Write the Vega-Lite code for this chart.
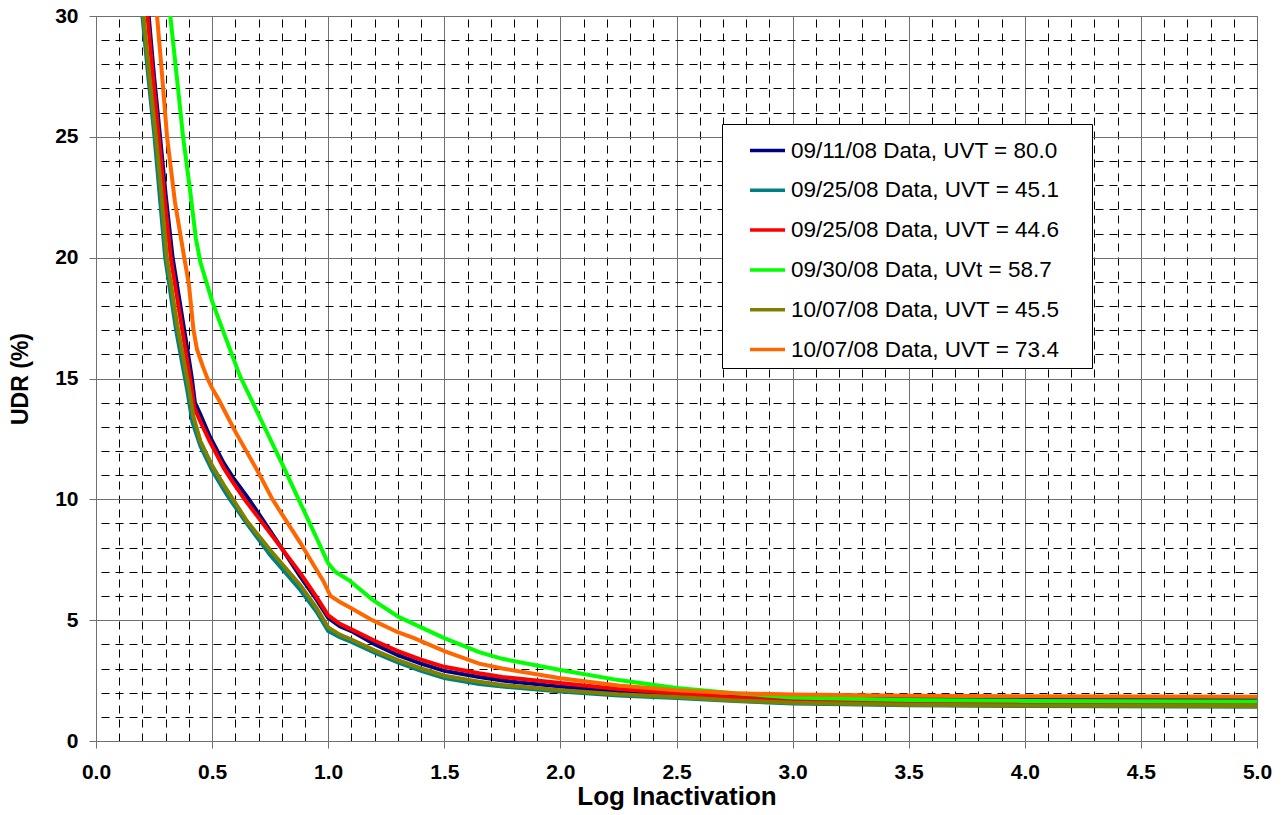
{
  "$schema": "https://vega.github.io/schema/vega-lite/v6.json",
  "width": 1161,
  "height": 725,
  "autosize": {"type": "none"},
  "padding": {"left": 96, "top": 16, "right": 29, "bottom": 74},
  "background": "white",
  "config": {
    "view": {"stroke": "#808080", "strokeWidth": 1},
    "font": "Liberation Sans"
  },
  "data": {"values": [
    {"s": "09/11/08 Data, UVT = 80.0", "x": 0.21, "y": 31.8},
    {"s": "09/11/08 Data, UVT = 80.0", "x": 0.227, "y": 30},
    {"s": "09/11/08 Data, UVT = 80.0", "x": 0.25, "y": 27.5},
    {"s": "09/11/08 Data, UVT = 80.0", "x": 0.276, "y": 25},
    {"s": "09/11/08 Data, UVT = 80.0", "x": 0.30, "y": 22.6},
    {"s": "09/11/08 Data, UVT = 80.0", "x": 0.33, "y": 20},
    {"s": "09/11/08 Data, UVT = 80.0", "x": 0.36, "y": 18.2},
    {"s": "09/11/08 Data, UVT = 80.0", "x": 0.40, "y": 15.8},
    {"s": "09/11/08 Data, UVT = 80.0", "x": 0.413, "y": 15},
    {"s": "09/11/08 Data, UVT = 80.0", "x": 0.426, "y": 14.0},
    {"s": "09/11/08 Data, UVT = 80.0", "x": 0.45, "y": 13.5},
    {"s": "09/11/08 Data, UVT = 80.0", "x": 0.49, "y": 12.6},
    {"s": "09/11/08 Data, UVT = 80.0", "x": 0.55, "y": 11.5},
    {"s": "09/11/08 Data, UVT = 80.0", "x": 0.59, "y": 10.9},
    {"s": "09/11/08 Data, UVT = 80.0", "x": 0.655, "y": 10.05},
    {"s": "09/11/08 Data, UVT = 80.0", "x": 0.75, "y": 8.7},
    {"s": "09/11/08 Data, UVT = 80.0", "x": 0.88, "y": 6.8},
    {"s": "09/11/08 Data, UVT = 80.0", "x": 0.95, "y": 5.85},
    {"s": "09/11/08 Data, UVT = 80.0", "x": 1.00, "y": 5.1},
    {"s": "09/11/08 Data, UVT = 80.0", "x": 1.05, "y": 4.75},
    {"s": "09/11/08 Data, UVT = 80.0", "x": 1.10, "y": 4.55},
    {"s": "09/11/08 Data, UVT = 80.0", "x": 1.20, "y": 4.0},
    {"s": "09/11/08 Data, UVT = 80.0", "x": 1.30, "y": 3.55},
    {"s": "09/11/08 Data, UVT = 80.0", "x": 1.40, "y": 3.2},
    {"s": "09/11/08 Data, UVT = 80.0", "x": 1.50, "y": 2.9},
    {"s": "09/11/08 Data, UVT = 80.0", "x": 1.65, "y": 2.65},
    {"s": "09/11/08 Data, UVT = 80.0", "x": 1.75, "y": 2.5},
    {"s": "09/11/08 Data, UVT = 80.0", "x": 2.0, "y": 2.25},
    {"s": "09/11/08 Data, UVT = 80.0", "x": 2.25, "y": 2.05},
    {"s": "09/11/08 Data, UVT = 80.0", "x": 2.5, "y": 1.9},
    {"s": "09/11/08 Data, UVT = 80.0", "x": 2.75, "y": 1.82},
    {"s": "09/11/08 Data, UVT = 80.0", "x": 3.0, "y": 1.77},
    {"s": "09/11/08 Data, UVT = 80.0", "x": 3.5, "y": 1.74},
    {"s": "09/11/08 Data, UVT = 80.0", "x": 4.0, "y": 1.73},
    {"s": "09/11/08 Data, UVT = 80.0", "x": 5.0, "y": 1.72},

    {"s": "09/25/08 Data, UVT = 45.1", "x": 0.185, "y": 31.8},
    {"s": "09/25/08 Data, UVT = 45.1", "x": 0.2, "y": 30},
    {"s": "09/25/08 Data, UVT = 45.1", "x": 0.225, "y": 27.5},
    {"s": "09/25/08 Data, UVT = 45.1", "x": 0.252, "y": 25},
    {"s": "09/25/08 Data, UVT = 45.1", "x": 0.275, "y": 22.5},
    {"s": "09/25/08 Data, UVT = 45.1", "x": 0.298, "y": 20},
    {"s": "09/25/08 Data, UVT = 45.1", "x": 0.345, "y": 17.0},
    {"s": "09/25/08 Data, UVT = 45.1", "x": 0.395, "y": 14.4},
    {"s": "09/25/08 Data, UVT = 45.1", "x": 0.415, "y": 13.2},
    {"s": "09/25/08 Data, UVT = 45.1", "x": 0.45, "y": 12.2},
    {"s": "09/25/08 Data, UVT = 45.1", "x": 0.50, "y": 11.2},
    {"s": "09/25/08 Data, UVT = 45.1", "x": 0.55, "y": 10.4},
    {"s": "09/25/08 Data, UVT = 45.1", "x": 0.577, "y": 10.0},
    {"s": "09/25/08 Data, UVT = 45.1", "x": 0.65, "y": 9.0},
    {"s": "09/25/08 Data, UVT = 45.1", "x": 0.75, "y": 7.7},
    {"s": "09/25/08 Data, UVT = 45.1", "x": 0.88, "y": 6.25},
    {"s": "09/25/08 Data, UVT = 45.1", "x": 0.95, "y": 5.35},
    {"s": "09/25/08 Data, UVT = 45.1", "x": 1.00, "y": 4.55},
    {"s": "09/25/08 Data, UVT = 45.1", "x": 1.05, "y": 4.3},
    {"s": "09/25/08 Data, UVT = 45.1", "x": 1.10, "y": 4.1},
    {"s": "09/25/08 Data, UVT = 45.1", "x": 1.20, "y": 3.65},
    {"s": "09/25/08 Data, UVT = 45.1", "x": 1.30, "y": 3.25},
    {"s": "09/25/08 Data, UVT = 45.1", "x": 1.40, "y": 2.9},
    {"s": "09/25/08 Data, UVT = 45.1", "x": 1.50, "y": 2.6},
    {"s": "09/25/08 Data, UVT = 45.1", "x": 1.65, "y": 2.36},
    {"s": "09/25/08 Data, UVT = 45.1", "x": 1.75, "y": 2.25},
    {"s": "09/25/08 Data, UVT = 45.1", "x": 2.0, "y": 2.05},
    {"s": "09/25/08 Data, UVT = 45.1", "x": 2.25, "y": 1.88},
    {"s": "09/25/08 Data, UVT = 45.1", "x": 2.5, "y": 1.78},
    {"s": "09/25/08 Data, UVT = 45.1", "x": 2.75, "y": 1.65},
    {"s": "09/25/08 Data, UVT = 45.1", "x": 3.0, "y": 1.55},
    {"s": "09/25/08 Data, UVT = 45.1", "x": 3.5, "y": 1.48},
    {"s": "09/25/08 Data, UVT = 45.1", "x": 4.0, "y": 1.45},
    {"s": "09/25/08 Data, UVT = 45.1", "x": 5.0, "y": 1.42},

    {"s": "09/25/08 Data, UVT = 44.6", "x": 0.205, "y": 31.6},
    {"s": "09/25/08 Data, UVT = 44.6", "x": 0.222, "y": 30},
    {"s": "09/25/08 Data, UVT = 44.6", "x": 0.245, "y": 27.5},
    {"s": "09/25/08 Data, UVT = 44.6", "x": 0.27, "y": 25},
    {"s": "09/25/08 Data, UVT = 44.6", "x": 0.295, "y": 22.5},
    {"s": "09/25/08 Data, UVT = 44.6", "x": 0.322, "y": 20},
    {"s": "09/25/08 Data, UVT = 44.6", "x": 0.355, "y": 18.0},
    {"s": "09/25/08 Data, UVT = 44.6", "x": 0.395, "y": 15.6},
    {"s": "09/25/08 Data, UVT = 44.6", "x": 0.41, "y": 14.7},
    {"s": "09/25/08 Data, UVT = 44.6", "x": 0.423, "y": 13.8},
    {"s": "09/25/08 Data, UVT = 44.6", "x": 0.45, "y": 13.2},
    {"s": "09/25/08 Data, UVT = 44.6", "x": 0.49, "y": 12.4},
    {"s": "09/25/08 Data, UVT = 44.6", "x": 0.55, "y": 11.3},
    {"s": "09/25/08 Data, UVT = 44.6", "x": 0.59, "y": 10.7},
    {"s": "09/25/08 Data, UVT = 44.6", "x": 0.64, "y": 10.0},
    {"s": "09/25/08 Data, UVT = 44.6", "x": 0.75, "y": 8.6},
    {"s": "09/25/08 Data, UVT = 44.6", "x": 0.88, "y": 6.95},
    {"s": "09/25/08 Data, UVT = 44.6", "x": 0.95, "y": 5.95},
    {"s": "09/25/08 Data, UVT = 44.6", "x": 1.00, "y": 5.2},
    {"s": "09/25/08 Data, UVT = 44.6", "x": 1.05, "y": 4.85},
    {"s": "09/25/08 Data, UVT = 44.6", "x": 1.10, "y": 4.62},
    {"s": "09/25/08 Data, UVT = 44.6", "x": 1.20, "y": 4.15},
    {"s": "09/25/08 Data, UVT = 44.6", "x": 1.30, "y": 3.72},
    {"s": "09/25/08 Data, UVT = 44.6", "x": 1.40, "y": 3.37},
    {"s": "09/25/08 Data, UVT = 44.6", "x": 1.50, "y": 3.07},
    {"s": "09/25/08 Data, UVT = 44.6", "x": 1.65, "y": 2.8},
    {"s": "09/25/08 Data, UVT = 44.6", "x": 1.75, "y": 2.65},
    {"s": "09/25/08 Data, UVT = 44.6", "x": 2.0, "y": 2.4},
    {"s": "09/25/08 Data, UVT = 44.6", "x": 2.25, "y": 2.15},
    {"s": "09/25/08 Data, UVT = 44.6", "x": 2.5, "y": 1.98},
    {"s": "09/25/08 Data, UVT = 44.6", "x": 2.75, "y": 1.8},
    {"s": "09/25/08 Data, UVT = 44.6", "x": 3.0, "y": 1.7},
    {"s": "09/25/08 Data, UVT = 44.6", "x": 3.5, "y": 1.62},
    {"s": "09/25/08 Data, UVT = 44.6", "x": 4.0, "y": 1.58},
    {"s": "09/25/08 Data, UVT = 44.6", "x": 5.0, "y": 1.55},

    {"s": "09/30/08 Data, UVt = 58.7", "x": 0.30, "y": 32.2},
    {"s": "09/30/08 Data, UVt = 58.7", "x": 0.32, "y": 30},
    {"s": "09/30/08 Data, UVt = 58.7", "x": 0.35, "y": 27.3},
    {"s": "09/30/08 Data, UVt = 58.7", "x": 0.375, "y": 25},
    {"s": "09/30/08 Data, UVt = 58.7", "x": 0.405, "y": 22.8},
    {"s": "09/30/08 Data, UVt = 58.7", "x": 0.43, "y": 20.8},
    {"s": "09/30/08 Data, UVt = 58.7", "x": 0.45, "y": 19.8},
    {"s": "09/30/08 Data, UVt = 58.7", "x": 0.50, "y": 18.2},
    {"s": "09/30/08 Data, UVt = 58.7", "x": 0.55, "y": 16.9},
    {"s": "09/30/08 Data, UVt = 58.7", "x": 0.62, "y": 15.1},
    {"s": "09/30/08 Data, UVt = 58.7", "x": 0.70, "y": 13.5},
    {"s": "09/30/08 Data, UVt = 58.7", "x": 0.80, "y": 11.5},
    {"s": "09/30/08 Data, UVt = 58.7", "x": 0.87, "y": 10.05},
    {"s": "09/30/08 Data, UVt = 58.7", "x": 0.95, "y": 8.4},
    {"s": "09/30/08 Data, UVt = 58.7", "x": 1.00, "y": 7.35},
    {"s": "09/30/08 Data, UVt = 58.7", "x": 1.03, "y": 7.0},
    {"s": "09/30/08 Data, UVt = 58.7", "x": 1.09, "y": 6.65},
    {"s": "09/30/08 Data, UVt = 58.7", "x": 1.19, "y": 5.85},
    {"s": "09/30/08 Data, UVt = 58.7", "x": 1.30, "y": 5.15},
    {"s": "09/30/08 Data, UVt = 58.7", "x": 1.40, "y": 4.7},
    {"s": "09/30/08 Data, UVt = 58.7", "x": 1.50, "y": 4.26},
    {"s": "09/30/08 Data, UVt = 58.7", "x": 1.65, "y": 3.68},
    {"s": "09/30/08 Data, UVt = 58.7", "x": 1.75, "y": 3.4},
    {"s": "09/30/08 Data, UVt = 58.7", "x": 2.0, "y": 2.94},
    {"s": "09/30/08 Data, UVt = 58.7", "x": 2.25, "y": 2.52},
    {"s": "09/30/08 Data, UVt = 58.7", "x": 2.5, "y": 2.19},
    {"s": "09/30/08 Data, UVt = 58.7", "x": 2.75, "y": 1.98},
    {"s": "09/30/08 Data, UVt = 58.7", "x": 3.0, "y": 1.8},
    {"s": "09/30/08 Data, UVt = 58.7", "x": 3.5, "y": 1.7},
    {"s": "09/30/08 Data, UVt = 58.7", "x": 4.0, "y": 1.66},
    {"s": "09/30/08 Data, UVt = 58.7", "x": 5.0, "y": 1.63},

    {"s": "10/07/08 Data, UVT = 45.5", "x": 0.19, "y": 32},
    {"s": "10/07/08 Data, UVT = 45.5", "x": 0.205, "y": 30},
    {"s": "10/07/08 Data, UVT = 45.5", "x": 0.23, "y": 27.5},
    {"s": "10/07/08 Data, UVT = 45.5", "x": 0.258, "y": 25},
    {"s": "10/07/08 Data, UVT = 45.5", "x": 0.28, "y": 22.8},
    {"s": "10/07/08 Data, UVT = 45.5", "x": 0.305, "y": 20},
    {"s": "10/07/08 Data, UVT = 45.5", "x": 0.35, "y": 17.2},
    {"s": "10/07/08 Data, UVT = 45.5", "x": 0.40, "y": 14.6},
    {"s": "10/07/08 Data, UVT = 45.5", "x": 0.42, "y": 13.4},
    {"s": "10/07/08 Data, UVT = 45.5", "x": 0.45, "y": 12.4},
    {"s": "10/07/08 Data, UVT = 45.5", "x": 0.50, "y": 11.4},
    {"s": "10/07/08 Data, UVT = 45.5", "x": 0.55, "y": 10.6},
    {"s": "10/07/08 Data, UVT = 45.5", "x": 0.59, "y": 10.0},
    {"s": "10/07/08 Data, UVT = 45.5", "x": 0.65, "y": 9.1},
    {"s": "10/07/08 Data, UVT = 45.5", "x": 0.75, "y": 7.9},
    {"s": "10/07/08 Data, UVT = 45.5", "x": 0.88, "y": 6.45},
    {"s": "10/07/08 Data, UVT = 45.5", "x": 0.95, "y": 5.5},
    {"s": "10/07/08 Data, UVT = 45.5", "x": 1.00, "y": 4.7},
    {"s": "10/07/08 Data, UVT = 45.5", "x": 1.05, "y": 4.4},
    {"s": "10/07/08 Data, UVT = 45.5", "x": 1.10, "y": 4.2},
    {"s": "10/07/08 Data, UVT = 45.5", "x": 1.20, "y": 3.75},
    {"s": "10/07/08 Data, UVT = 45.5", "x": 1.30, "y": 3.35},
    {"s": "10/07/08 Data, UVT = 45.5", "x": 1.40, "y": 3.0},
    {"s": "10/07/08 Data, UVT = 45.5", "x": 1.50, "y": 2.7},
    {"s": "10/07/08 Data, UVT = 45.5", "x": 1.65, "y": 2.45},
    {"s": "10/07/08 Data, UVT = 45.5", "x": 1.75, "y": 2.32},
    {"s": "10/07/08 Data, UVT = 45.5", "x": 2.0, "y": 2.1},
    {"s": "10/07/08 Data, UVT = 45.5", "x": 2.25, "y": 1.93},
    {"s": "10/07/08 Data, UVT = 45.5", "x": 2.5, "y": 1.82},
    {"s": "10/07/08 Data, UVT = 45.5", "x": 2.75, "y": 1.68},
    {"s": "10/07/08 Data, UVT = 45.5", "x": 3.0, "y": 1.58},
    {"s": "10/07/08 Data, UVT = 45.5", "x": 3.5, "y": 1.5},
    {"s": "10/07/08 Data, UVT = 45.5", "x": 4.0, "y": 1.47},
    {"s": "10/07/08 Data, UVT = 45.5", "x": 5.0, "y": 1.45},

    {"s": "10/07/08 Data, UVT = 73.4", "x": 0.24, "y": 33},
    {"s": "10/07/08 Data, UVT = 73.4", "x": 0.263, "y": 30},
    {"s": "10/07/08 Data, UVT = 73.4", "x": 0.285, "y": 27.5},
    {"s": "10/07/08 Data, UVT = 73.4", "x": 0.306, "y": 25},
    {"s": "10/07/08 Data, UVT = 73.4", "x": 0.34, "y": 22.3},
    {"s": "10/07/08 Data, UVT = 73.4", "x": 0.38, "y": 20},
    {"s": "10/07/08 Data, UVT = 73.4", "x": 0.40, "y": 18.9},
    {"s": "10/07/08 Data, UVT = 73.4", "x": 0.42, "y": 17},
    {"s": "10/07/08 Data, UVT = 73.4", "x": 0.435, "y": 16.2},
    {"s": "10/07/08 Data, UVT = 73.4", "x": 0.46, "y": 15.5},
    {"s": "10/07/08 Data, UVT = 73.4", "x": 0.48, "y": 15.0},
    {"s": "10/07/08 Data, UVT = 73.4", "x": 0.50, "y": 14.6},
    {"s": "10/07/08 Data, UVT = 73.4", "x": 0.53, "y": 14.1},
    {"s": "10/07/08 Data, UVT = 73.4", "x": 0.60, "y": 12.8},
    {"s": "10/07/08 Data, UVT = 73.4", "x": 0.70, "y": 11.1},
    {"s": "10/07/08 Data, UVT = 73.4", "x": 0.76, "y": 10.0},
    {"s": "10/07/08 Data, UVT = 73.4", "x": 0.80, "y": 9.4},
    {"s": "10/07/08 Data, UVT = 73.4", "x": 0.88, "y": 8.2},
    {"s": "10/07/08 Data, UVT = 73.4", "x": 0.93, "y": 7.4},
    {"s": "10/07/08 Data, UVT = 73.4", "x": 0.98, "y": 6.6},
    {"s": "10/07/08 Data, UVT = 73.4", "x": 1.01, "y": 6.0},
    {"s": "10/07/08 Data, UVT = 73.4", "x": 1.05, "y": 5.75},
    {"s": "10/07/08 Data, UVT = 73.4", "x": 1.09, "y": 5.54},
    {"s": "10/07/08 Data, UVT = 73.4", "x": 1.19, "y": 5.0},
    {"s": "10/07/08 Data, UVT = 73.4", "x": 1.30, "y": 4.5},
    {"s": "10/07/08 Data, UVT = 73.4", "x": 1.37, "y": 4.26},
    {"s": "10/07/08 Data, UVT = 73.4", "x": 1.50, "y": 3.72},
    {"s": "10/07/08 Data, UVT = 73.4", "x": 1.65, "y": 3.2},
    {"s": "10/07/08 Data, UVT = 73.4", "x": 1.75, "y": 3.0},
    {"s": "10/07/08 Data, UVT = 73.4", "x": 2.0, "y": 2.6},
    {"s": "10/07/08 Data, UVT = 73.4", "x": 2.25, "y": 2.3},
    {"s": "10/07/08 Data, UVT = 73.4", "x": 2.5, "y": 2.1},
    {"s": "10/07/08 Data, UVT = 73.4", "x": 2.75, "y": 1.98},
    {"s": "10/07/08 Data, UVT = 73.4", "x": 3.0, "y": 1.92},
    {"s": "10/07/08 Data, UVT = 73.4", "x": 3.5, "y": 1.87},
    {"s": "10/07/08 Data, UVT = 73.4", "x": 4.0, "y": 1.85},
    {"s": "10/07/08 Data, UVT = 73.4", "x": 5.0, "y": 1.83}
  ]},
  "layer": [
    {
      "mark": {"type": "line", "opacity": 0, "clip": true},
      "encoding": {
        "x": {"field": "x", "type": "quantitative", "scale": {"domain": [0, 5], "nice": false, "zero": false},
          "axis": {"orient": "top", "values": [0.1,0.2,0.3,0.4,0.6,0.7,0.8,0.9,1.1,1.2,1.3,1.4,1.6,1.7,1.8,1.9,2.1,2.2,2.3,2.4,2.6,2.7,2.8,2.9,3.1,3.2,3.3,3.4,3.6,3.7,3.8,3.9,4.1,4.2,4.3,4.4,4.6,4.7,4.8,4.9],
            "grid": true, "gridColor": "black", "gridDash": [8, 6], "gridWidth": 1, "gridOpacity": 1,
            "labels": false, "ticks": false, "domain": false, "title": null}},
        "y": {"field": "y", "type": "quantitative", "scale": {"domain": [0, 30], "nice": false, "zero": false},
          "axis": {"orient": "right", "values": [1,2,3,4,6,7,8,9,11,12,13,14,16,17,18,19,21,22,23,24,26,27,28,29],
            "grid": true, "gridColor": "black", "gridDash": [8, 6], "gridWidth": 1, "gridOpacity": 1,
            "labels": false, "ticks": false, "domain": false, "title": null}},
        "detail": {"field": "s", "type": "nominal"}
      }
    },
    {
      "mark": {"type": "line", "strokeWidth": 4, "clip": true},
      "encoding": {
        "x": {"field": "x", "type": "quantitative",
          "axis": {"orient": "bottom", "values": [0,0.5,1,1.5,2,2.5,3,3.5,4,4.5,5], "format": ".1f",
            "grid": true, "gridColor": "#707070", "gridWidth": 1, "gridOpacity": 1,
            "domainColor": "#707070", "tickColor": "#707070", "tickSize": 7,
            "labelFont": "Liberation Sans", "labelFontSize": 21, "labelFontWeight": "bold", "labelColor": "black",
            "labelPadding": 13, "labelFlush": false,
            "title": "Log Inactivation", "titleFont": "Liberation Sans", "titleFontSize": 26, "titleFontWeight": "bold", "titleColor": "black", "titlePadding": 1}},
        "y": {"field": "y", "type": "quantitative",
          "axis": {"orient": "left", "values": [0,5,10,15,20,25,30],
            "grid": true, "gridColor": "#707070", "gridWidth": 1, "gridOpacity": 1,
            "domainColor": "#707070", "tickColor": "#707070", "tickSize": 7,
            "labelFont": "Liberation Sans", "labelFontSize": 21, "labelFontWeight": "bold", "labelColor": "black",
            "labelPadding": 11, "labelFlush": false,
            "title": "UDR (%)", "titleFont": "Liberation Sans", "titleFontSize": 23, "titleFontWeight": "bold", "titleColor": "black", "titlePadding": 22}},
        "color": {"field": "s", "type": "nominal",
          "scale": {"domain": ["09/11/08 Data, UVT = 80.0", "09/25/08 Data, UVT = 45.1", "09/25/08 Data, UVT = 44.6", "09/30/08 Data, UVt = 58.7", "10/07/08 Data, UVT = 45.5", "10/07/08 Data, UVT = 73.4"],
            "range": ["#000080", "#008080", "#FF0000", "#00FF00", "#808000", "#FF6600"]},
          "legend": {"orient": "none", "legendX": 626, "legendY": 108, "title": null,
            "strokeColor": "black", "fillColor": "white", "padding": 7,
            "symbolType": "stroke", "symbolSize": 1225, "symbolStrokeWidth": 3.5, "symbolOffset": 19,
            "labelOffset": 4, "labelFont": "Liberation Sans", "labelFontSize": 22.5, "labelColor": "black", "labelLimit": 0,
            "rowPadding": 8.8,
            "labelExpr": "datum.label + '\u00a0\u00a0\u00a0\u00a0\u200b'"}}
      }
    }
  ],
  "resolve": {"axis": {"x": "independent", "y": "independent"}}
}
